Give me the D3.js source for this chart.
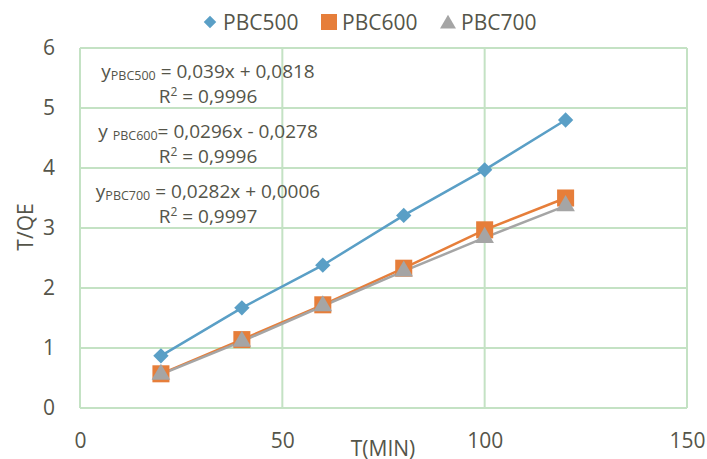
<!DOCTYPE html>
<html>
<head>
<meta charset="utf-8">
<script src="https://cdn.jsdelivr.net/npm/d3@7"></script>
<style>
  body { margin: 0; background: #fff; }
  text { font-family: "Open Sans", sans-serif; fill: #55554a; }
</style>
</head>
<body>
<div id="chart"></div>
<script>
// time points (min)
const times = [20, 40, 60, 80, 100, 120];
// t/qe values per series
const pbc500 = [0.87, 1.67, 2.38, 3.21, 3.97, 4.8];
const pbc600 = [0.57, 1.14, 1.72, 2.33, 2.97, 3.5];
const pbc700 = [0.56, 1.11, 1.70, 2.28, 2.84, 3.37];

const seriesNames = ["PBC500", "PBC600", "PBC700"];
const colors = ["#5a9fc6", "#e67e3a", "#a5a5a5"];
const shapes = [d3.symbolDiamond2, d3.symbolSquare, d3.symbolTriangle];

const xTicks = [0, 50, 100, 150];
const yTicks = [0, 1, 2, 3, 4, 5, 6];

// trendline labels
const equations = [
  { y: "y", sub: "PBC500", rest: " = 0,039x + 0,0818", r2: "0,9996" },
  { y: "y ", sub: "PBC600", rest: "= 0,0296x - 0,0278", r2: "0,9996" },
  { y: "y", sub: "PBC700", rest: " = 0,0282x + 0,0006", r2: "0,9997" }
];

const width = 707, height = 459;
const margin = { top: 48, right: 20, bottom: 51, left: 80 };
const w = width - margin.left - margin.right;
const h = height - margin.top - margin.bottom;

const svg = d3.select("#chart").append("svg")
  .attr("width", width)
  .attr("height", height);

const g = svg.append("g")
  .attr("transform", "translate(" + margin.left + "," + margin.top + ")");

const x = d3.scaleLinear().domain([0, 150]).range([0, w]);
const y = d3.scaleLinear().domain([0, 6]).range([h, 0]);

// grid
const gridColor = "#c4e2c4";
g.selectAll(".hgrid").data(yTicks).enter().append("line")
  .attr("x1", 0).attr("x2", w)
  .attr("y1", d => y(d)).attr("y2", d => y(d))
  .attr("stroke", gridColor).attr("stroke-width", 2);
g.selectAll(".vgrid").data(xTicks).enter().append("line")
  .attr("y1", 0).attr("y2", h)
  .attr("x1", d => x(d)).attr("x2", d => x(d))
  .attr("stroke", gridColor).attr("stroke-width", 2);

// axes (labels only)
const xAxis = g.append("g")
  .attr("transform", "translate(0," + h + ")")
  .call(d3.axisBottom(x).tickValues(xTicks).tickSize(0).tickPadding(25).tickFormat(d3.format("d")));
const yAxis = g.append("g")
  .call(d3.axisLeft(y).tickValues(yTicks).tickSize(0).tickPadding(25).tickFormat(d3.format("d")));
[xAxis, yAxis].forEach(a => {
  a.select(".domain").remove();
  a.selectAll("text").style("font-size", "21px").attr("fill", "#55554a")
    .style("font-family", "'Open Sans', sans-serif");
});

// axis titles
svg.append("text")
  .attr("x", 383).attr("y", 456)
  .attr("text-anchor", "middle")
  .style("font-size", "21px")
  .text("T(MIN)");
svg.append("text")
  .attr("transform", "translate(33,227) rotate(-90)")
  .attr("text-anchor", "middle")
  .style("font-size", "21px")
  .text("T/QE");

// series
const allSeries = [pbc500, pbc600, pbc700];
const line = d3.line().x((d, i) => x(times[i])).y(d => y(d));

allSeries.forEach((vals, k) => {
  g.append("path")
    .datum(vals)
    .attr("fill", "none")
    .attr("stroke", colors[k])
    .attr("stroke-width", 2.5)
    .attr("d", line);
});

allSeries.forEach((vals, k) => {
  const size = k === 1 ? 290 : (k === 0 ? 150 : 150);
  g.selectAll(".pt" + k).data(vals).enter().append("path")
    .attr("transform", (d, i) => "translate(" + x(times[i]) + "," + y(d) + ")")
    .attr("d", d3.symbol().type(shapes[k]).size(size))
    .attr("fill", colors[k]);
});

// legend
const legendX = [210, 329, 448];
seriesNames.forEach((name, k) => {
  const sz = k === 1 ? 256 : (k === 0 ? 100 : 110);
  svg.append("path")
    .attr("transform", "translate(" + legendX[k] + "," + (k === 2 ? 24 : 22) + ")")
    .attr("d", d3.symbol().type(shapes[k]).size(sz))
    .attr("fill", colors[k]);
  svg.append("text")
    .attr("x", legendX[k] + 13).attr("y", 30)
    .style("font-size", "21px")
    .text(name);
});

// equations
const eqY = [78, 138, 198];
equations.forEach((e, k) => {
  const t = svg.append("text")
    .attr("x", 208).attr("y", eqY[k])
    .attr("text-anchor", "middle")
    .style("font-size", "19px");
  t.append("tspan").text(e.y);
  t.append("tspan").text(e.sub).style("font-size", "12.5px").attr("dy", 2);
  t.append("tspan").text(e.rest).attr("dy", -2);
  const r = svg.append("text")
    .attr("x", 208).attr("y", eqY[k] + 25)
    .attr("text-anchor", "middle")
    .style("font-size", "19px");
  r.append("tspan").text("R");
  r.append("tspan").text("2").style("font-size", "12px").attr("dy", -7);
  r.append("tspan").text(" = " + e.r2).attr("dy", 7);
});
</script>
</body>
</html>
